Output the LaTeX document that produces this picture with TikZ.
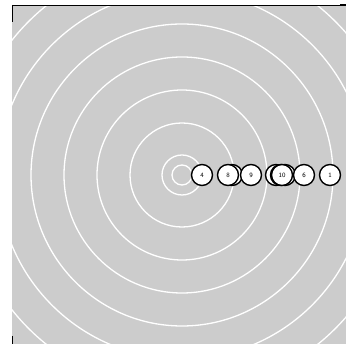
\documentclass[tikz,border=0pt]{standalone}
\usepackage{tikz}
\definecolor{panelgray}{RGB}{204,204,204}

\begin{document}
\begin{tikzpicture}[
    x=1pt, y=-1pt,
    ring/.style={draw=white, line width=1.3pt},
    member/.style={circle, draw=black, fill=white, line width=1.4pt, minimum size=21pt, inner sep=0pt, font=\fontsize{6.5}{7}\selectfont\sffamily},
    frame/.style={draw=black, line width=0.9pt}
]
\useasboundingbox (0,0) rectangle (346,344);

% Panel
\begin{scope}
\clip (12,5) rectangle (346,344);
\fill[panelgray] (12,5) rectangle (346,344);
\coordinate (ctr) at (182,175);
\foreach \r in {10,20,52,85,118,151,184,217,250}
    \draw[ring] (ctr) circle[radius=\r];
\end{scope}

% Axis lines
\draw[frame] (12,5) -- (346,5);
\draw[frame] (12,5) -- (12,22);
\draw[frame] (12,336) -- (12,344);
\draw[black, line width=2pt] (340,5) -- (346,5);

% Members
\node[member] (m2) at (232,175) {};
\node[member] (m3) at (276,175) {};
\node[member] (m5) at (281,175) {};
\node[member] (m7) at (285,175) {};
\node[member] (m4) at (202,175) {4};
\node[member] (m8) at (228,175) {8};
\node[member] (m9) at (251,175) {9};
\node[member] (m10) at (282,175) {10};
\node[member] (m6) at (304,175) {6};
\node[member] (m1) at (330,175) {1};
\end{tikzpicture}
\end{document}
